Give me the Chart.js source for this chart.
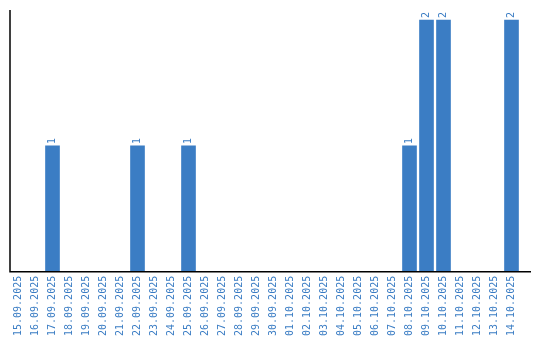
<!DOCTYPE html>
<html>
<head>
<meta charset="utf-8">
<script src="https://cdn.jsdelivr.net/npm/chart.js@4"></script>
<style>
html,body{margin:0;padding:0;background:#fff;}
#wrap{width:540px;height:340px;position:relative;}
</style>
</head>
<body>
<div id="wrap"><canvas id="c" width="540" height="340"></canvas></div>
<script>
const categories = [
  "15.09.2025","16.09.2025","17.09.2025","18.09.2025","19.09.2025","20.09.2025",
  "21.09.2025","22.09.2025","23.09.2025","24.09.2025","25.09.2025","26.09.2025",
  "27.09.2025","28.09.2025","29.09.2025","30.09.2025","01.10.2025","02.10.2025",
  "03.10.2025","04.10.2025","05.10.2025","06.10.2025","07.10.2025","08.10.2025",
  "09.10.2025","10.10.2025","11.10.2025","12.10.2025","13.10.2025","14.10.2025"
];
const counts = [0,0,1,0,0,0,0,1,0,0,1,0,0,0,0,0,0,0,0,0,0,0,0,1,2,2,0,0,0,2];
const yMax = 2.08;

const BLUE = '#3b7dc4';
const FONT = 'DejaVu Sans Mono';

const valueLabels = {
  id: 'valueLabels',
  afterDatasetsDraw(chart) {
    const ctx = chart.ctx;
    const meta = chart.getDatasetMeta(0);
    ctx.save();
    ctx.fillStyle = BLUE;
    ctx.font = '10px "' + FONT + '"';
    ctx.textAlign = 'left';
    ctx.textBaseline = 'middle';
    meta.data.forEach((bar, i) => {
      const v = counts[i];
      if (!v) return;
      ctx.save();
      ctx.translate(bar.x, bar.y - 2);
      ctx.rotate(-Math.PI / 2);
      ctx.fillText(String(v), 0, 0);
      ctx.restore();
    });
    ctx.restore();
  }
};

const axisLines = {
  id: 'axisLines',
  afterDraw(chart) {
    const a = chart.chartArea;
    const ctx = chart.ctx;
    ctx.save();
    ctx.strokeStyle = '#000';
    ctx.lineWidth = 1.5;
    ctx.beginPath();
    ctx.moveTo(a.left, a.top);
    ctx.lineTo(a.left, a.bottom);
    ctx.lineTo(chart.width - 9, a.bottom);
    ctx.stroke();
    ctx.restore();
  }
};

new Chart(document.getElementById('c'), {
  type: 'bar',
  data: {
    labels: categories,
    datasets: [{
      data: counts,
      backgroundColor: BLUE,
      borderWidth: 0,
      barThickness: 14
    }]
  },
  options: {
    responsive: false,
    animation: false,
    devicePixelRatio: 1,
    layout: { padding: { left: 10, top: 10, right: 20, bottom: 0 } },
    plugins: { legend: { display: false }, tooltip: { enabled: false } },
    scales: {
      x: {
        grid: { display: false, drawTicks: false },
        border: { display: false },
        ticks: {
          autoSkip: false,
          maxRotation: 90,
          minRotation: 90,
          padding: 4,
          color: BLUE,
          font: { family: FONT, size: 10 }
        }
      },
      y: {
        min: 0,
        max: yMax,
        grid: { display: false, drawTicks: false },
        border: { display: false },
        ticks: { display: false }
      }
    }
  },
  plugins: [valueLabels, axisLines]
});
</script>
</body>
</html>
